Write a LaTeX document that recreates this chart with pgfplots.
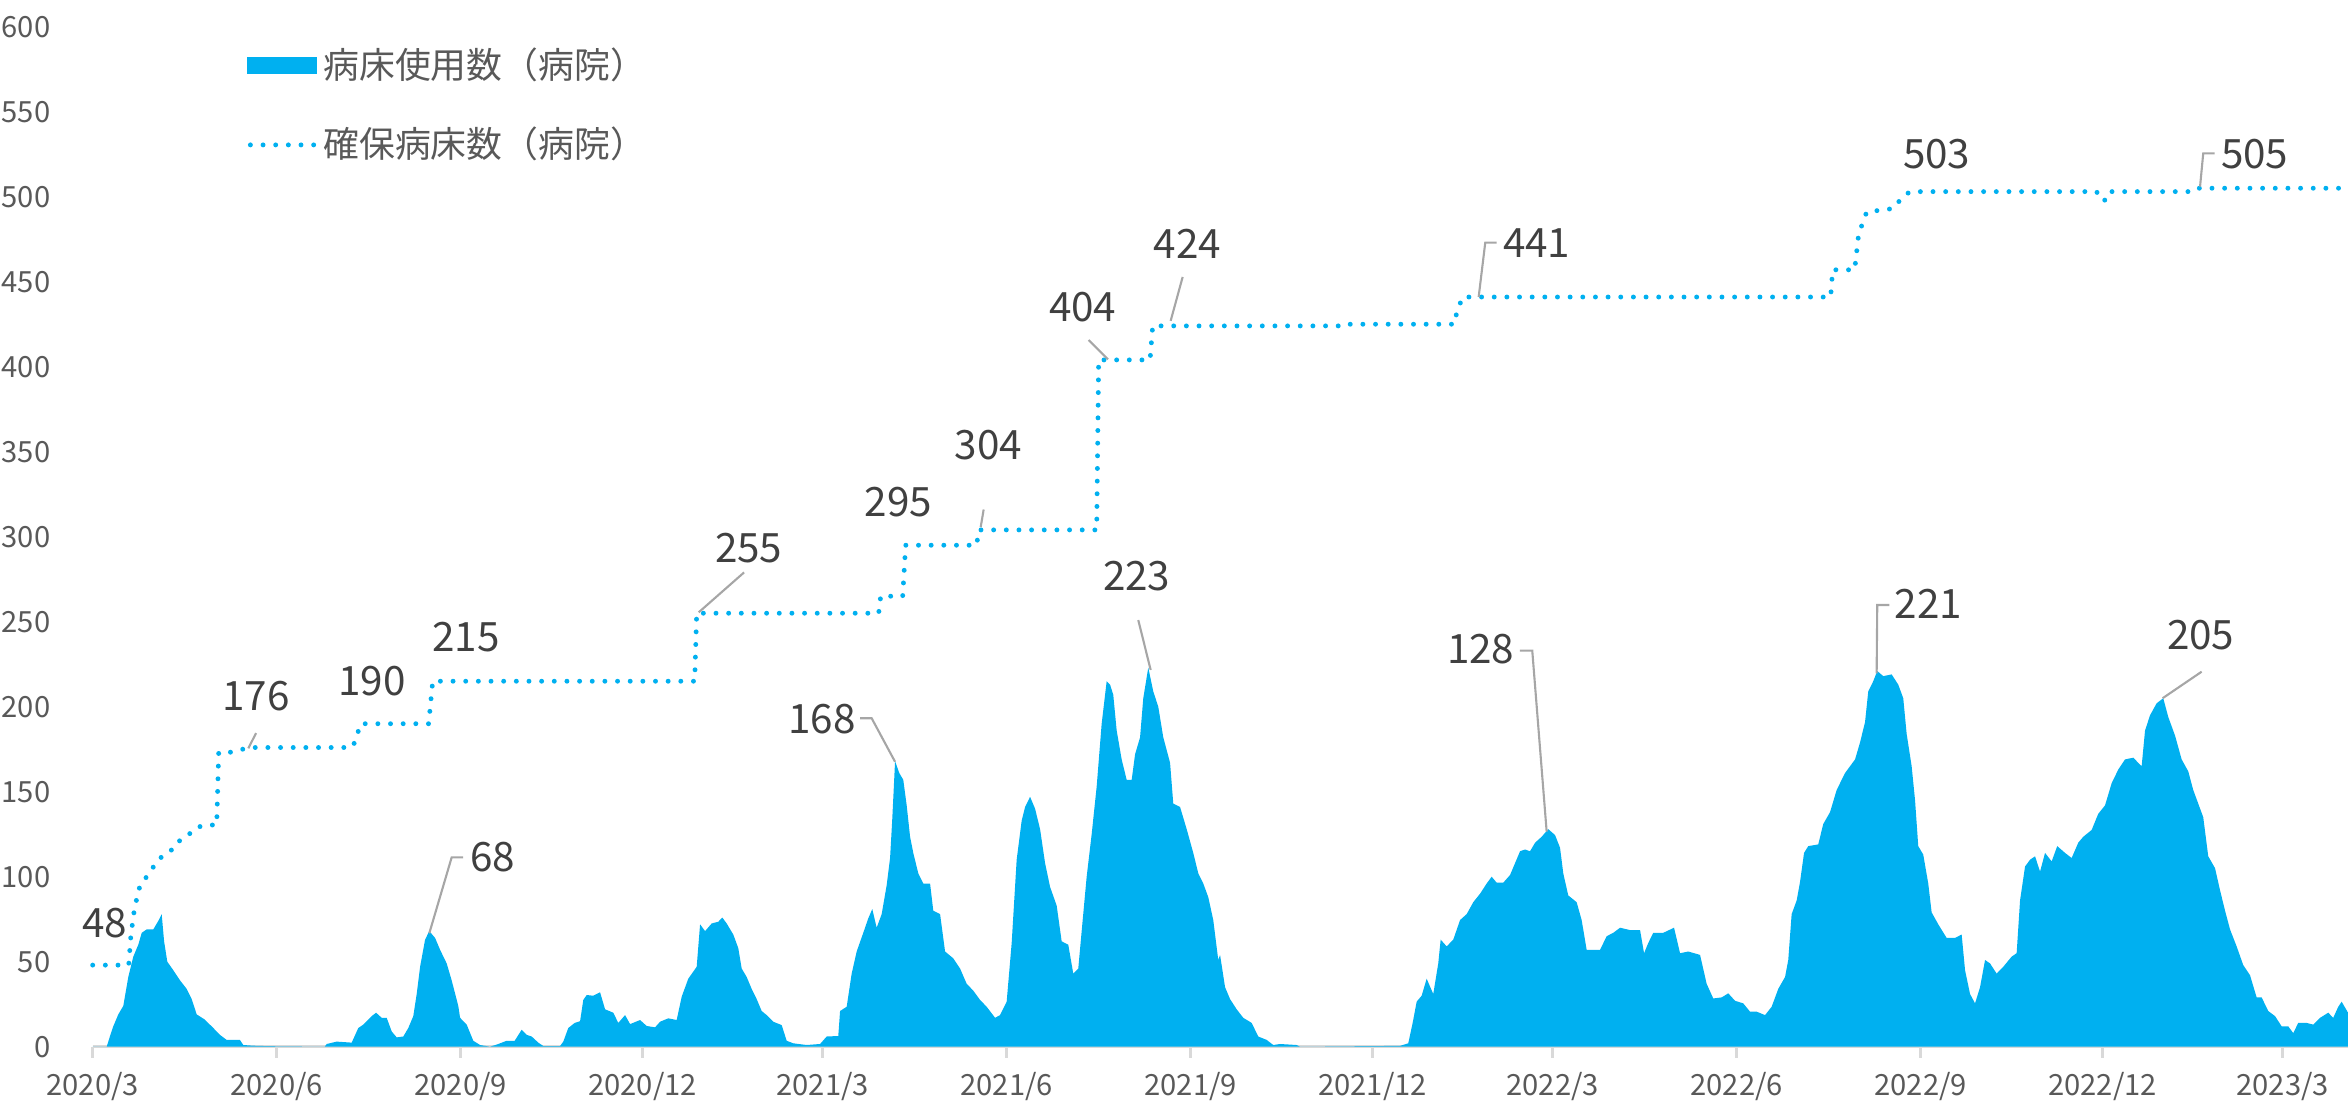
\documentclass[border=0pt]{standalone}
\usepackage{fontspec}
\setmainfont{Noto Sans CJK JP}
\usepackage{pgfplots}
\usepackage{pgfplotstable}
\pgfplotsset{compat=1.18}
\definecolor{barblue}{HTML}{00B0F0}
\definecolor{tickgray}{HTML}{595959}
\definecolor{labgray}{HTML}{404040}
\definecolor{axgray}{HTML}{D9D9D9}
\definecolor{leadgray}{HTML}{A6A6A6}

% day index from 2020-03-01, beds in use
\pgfplotstableread{
d v
0 0
7 0
8.6 6
10.3 12
12.8 19
15.3 24
17.8 41
20.3 53
22.8 60
24.5 67
27 69
30.3 69
32.8 74
34.5 78
35.7 62
37.3 50
40.3 45
43.7 39
47 34
49.5 28
52 19
56 16
60.3 11
63.6 7
67 4
73.6 4
75.3 1
80.3 0.6
88.7 0.3
116 0
117 1.6
122 3
129.5 2.4
132.8 11
135.3 13
139.5 18
141.7 20
144.5 17
147 17
149.5 9
152 5.5
155.3 6
157.8 11
160.3 18
162 31
163.7 47
166.2 63
168.3 68
171.2 64
173.7 57
177 49
179.5 39
182.8 24
183.7 17
187 13
190.3 3.5
193.7 1
198.7 0
202.8 1.6
207 3.5
211 3.5
214.5 10
217 7
219.5 6
222.8 2.4
225.3 0.4
233.7 0.4
235.3 3
237.8 11
241 14
243.7 15
245.3 27.5
247 30.4
250.3 30
253.7 32
256.2 22
260.3 20
262.8 14
266.2 18.6
268.7 13.3
273.7 15.7
277 12.2
281.2 11.4
283.7 14.7
287.8 16.7
292 15.7
294.5 29.4
297.8 40
302 47
303.7 72
306.2 68
309.5 72.5
312.8 73.5
314.8 76
317 72.5
320.3 66
322.8 58
324.5 46
327 41
329.5 34
332 28
334.5 21
337 18.6
340.3 14.7
344.5 12.7
347 3.5
350.3 2
357 1
363.7 1.6
367 6
372.8 6.3
373.7 21
377 23.5
379.5 43
382 56
385.3 67
387.8 75.5
389.8 81
392 70
394.5 78
397 95
398.7 111
399.8 134
401.2 168
403.3 161
405.3 157
407 142
408.7 123.5
410.3 114
412.8 102
415.3 96
418.7 96
420.3 80
423.7 78
426.2 56
430.3 52
433.7 46
437 37
440.3 33
443.7 27.5
447 23.5
451.2 17
453.7 18.6
457 26.5
459.5 61
462 110
464.5 133
466.2 141
468.7 147
471.2 140
473.7 128
476.2 108
478.7 94
482 83
484.5 62
487.8 60
490.3 43
492.8 46
494.5 68
497 100
499.5 125
502 153
504.5 190
507 215
508.7 213
510.3 207
512 186
514.5 169
517 157
519.5 157
521.2 172
523.7 182
525.3 205
527.8 223
530.3 209
532.8 200
535.3 182
538.7 167
540.3 143
543.7 141
547 128
550.3 114
552.8 102
555.3 96
557.8 88
560.3 74.5
562.8 51
563.7 54
566.2 35
568.7 28
572 22
575.3 17
579.5 14
582.8 6
587 4
590.3 1
593.7 1.6
602 1
603.7 0
653.7 0.5
657.8 2
660 14
662 26.5
664.5 30
667 40
670.3 31
672.8 49
674 63
677 59
680.3 63
683.7 74.5
687 78
690.3 85
693.7 90
697 96
699.5 100
702 96.5
705.3 96.5
708.7 101
711.2 108
713.7 115
716.2 116
718.7 115
721.2 120
724.5 123.5
727.8 128
731.2 124.5
733.7 117
735.3 102
737.8 89
742 85
744.5 74.5
747 57
750.3 57
753.7 57
757 65
760.3 67
763.7 70
768.7 68.6
773.7 68.6
775.7 55
777.8 61
780.3 67
785.3 67
790.7 70
793.7 55
797.8 56
803.7 54
807 37
810.3 28.4
814.5 29
817.8 31.4
821.2 27
825.3 25.5
828.7 20.6
832 20.6
836.2 18.6
839.5 23.5
842.8 34
846.2 41
847.8 51
849.5 78
852 86
853.7 97
855.7 114
857.8 118
862.8 119
865.3 131
868.7 138
872 151
876.2 161
881.2 169
883.7 179
886.2 191
887.8 209
890.3 215
892.3 221
895.3 218
899.5 219
902.8 213
905.3 205
907 184
909.5 165
911.2 145
912.8 118
915.3 113
917.8 96
919.5 79
922.8 72
927 64
931.2 64
934.5 66
936.2 45
938.7 31
941.2 25.5
943.7 35
946.2 51
948.7 49
952 43
955.3 47
959.5 53
962 55
963.7 86
966.2 106
968.7 110
971.2 112
973.7 103
976.2 114
979.5 109
982.3 118
986.2 114
989.5 111
992.8 120
995.3 123.5
999.5 127.5
1002.8 137
1006.2 142
1009.5 155
1012.8 163
1016.2 169
1020.3 170
1024.5 165
1026.2 186
1028.7 195
1032 202
1035.3 205
1037.8 194
1041.2 183
1044.5 169
1047.8 162
1050.3 151
1052.8 143
1055.3 135
1057.8 112
1061.2 105
1063.7 92
1066.2 80
1068.7 69
1072 59
1075.3 48
1078.7 42
1082 29
1084.5 29
1087.8 21
1091.2 18
1094.5 12
1097.8 12
1100.3 8
1102.8 14
1107 14
1110.3 13
1113.7 17
1117.8 20
1120.3 17
1122.8 23.5
1124.5 26.5
1127.7 20
}\usedbeds

% secured beds
\pgfplotstableread{
d v
0 48
18 48
18.5 56
19 64
20.3 76.5
21.2 83
23.7 95
27 100
32.8 110
37 114
41.2 117
43.7 121.6
47.8 124.5
51.2 128.4
55.7 130.4
62 130.4
63 173
68 173
75 175
80 176
129.5 176
131 179
134 190
168 190
170 215
301 215
302 255
393 255
394 265
405 265
406.5 295
442 295
443 304
502 304
503 404
528.7 404
530 424
623 424
624 425
681 425
682 432
685 441
869 441
870 457
881 457
883 478
887 491
900 493
903 497
906 501
909 503
1002 503
1004 498
1007 498
1009 503
1050 503
1052 505
1127.7 505
}\securedbeds

\begin{document}
\begin{tikzpicture}
\path[use as bounding box] (0,0) rectangle (23.48cm,11.05cm);
\begin{axis}[
  at={(0.927cm,0.583cm)}, anchor=south west,
  scale only axis, width=22.553cm, height=10.2cm,
  xmin=0, xmax=1127.7, ymin=0, ymax=600,
  clip=false,
  axis x line=bottom, axis y line=left,
  x axis line style={axgray, line width=0.8pt, -},
  y axis line style={draw=none},
  ytick={0,50,...,600},
  ytick style={draw=none},
  xtick={0,92,184,275,365,457,549,640,730,822,914,1005,1095},
  xticklabels={2020/3,2020/6,2020/9,2020/12,2021/3,2021/6,2021/9,2021/12,2022/3,2022/6,2022/9,2022/12,2023/3},
  xtick style={axgray, line width=0.8pt},
  tick align=outside, major tick length=0.11cm,
  /pgf/number format/assume math mode=true,
  ticklabel style={font=\fontsize{8.3}{10}\selectfont, text=tickgray},
  yticklabel style={anchor=east, xshift=-0.19cm},
  xticklabel style={anchor=north, yshift=-0.02cm},
  legend style={at={(axis cs:77,590)}, anchor=north west, draw=none, fill=none,
    font=\fontsize{10.2}{12}\selectfont, text=tickgray, row sep=0.36cm, inner sep=0pt,
    nodes={inner sep=1pt}},
  legend cell align=left,
]
\addplot[fill=barblue, draw=none, sharp plot,
  legend image code/.code={\fill[barblue] (0cm,-0.085cm) rectangle (0.70cm,0.085cm);}]
  table[x=d, y=v] {\usedbeds} \closedcycle;
\addlegendentry{病床使用数（病院）}
\addplot[barblue, line width=1.4pt, dash pattern=on 0pt off 3.6pt, line cap=round, sharp plot,
  legend image code/.code={\draw[barblue, line width=1.4pt, dash pattern=on 0pt off 3.6pt, line cap=round] (0.03cm,0cm) -- (0.70cm,0cm);}]
  table[x=d, y=v] {\securedbeds};
\addlegendentry{確保病床数（病院）}

% leader lines
\draw[leadgray, line width=0.6pt] (axis cs:81.7,184.5) -- (axis cs:77.8,175.5);
\draw[leadgray, line width=0.6pt] (axis cs:168.3,66.7) -- (axis cs:179.5,111.4) -- (axis cs:185.2,111.4);
\draw[leadgray, line width=0.6pt] (axis cs:325.7,279) -- (axis cs:303,255.5);
\draw[leadgray, line width=0.6pt] (axis cs:445.5,316) -- (axis cs:444,305.6);
\draw[leadgray, line width=0.6pt] (axis cs:383.7,193.2) -- (axis cs:389.5,193.2) -- (axis cs:401.2,167.6);
\draw[leadgray, line width=0.6pt] (axis cs:498,415.7) -- (axis cs:507.7,404.3);
\draw[leadgray, line width=0.6pt] (axis cs:522.8,251) -- (axis cs:529,221.6);
\draw[leadgray, line width=0.6pt] (axis cs:545,452.8) -- (axis cs:539,427);
\draw[leadgray, line width=0.6pt] (axis cs:702,473) -- (axis cs:696.3,473) -- (axis cs:693,441);
\draw[leadgray, line width=0.6pt] (axis cs:713.6,233) -- (axis cs:719.8,233) -- (axis cs:727,126.5);
\draw[leadgray, line width=0.6pt] (axis cs:898.3,259.8) -- (axis cs:892.3,259.8) -- (axis cs:892,219.6);
\draw[leadgray, line width=0.6pt] (axis cs:1054.5,220.6) -- (axis cs:1035,205);
\draw[leadgray, line width=0.6pt] (axis cs:1061,525.5) -- (axis cs:1055.3,525.5) -- (axis cs:1053.7,505.9);

% data labels
\begin{scope}[every node/.style={font=\fontsize{11.5}{13}\selectfont, text=labgray, inner sep=0pt}]
\node at (axis cs:6,72.5) {48};
\node at (axis cs:81.6,206) {176};
\node at (axis cs:139.7,215) {190};
\node at (axis cs:186.6,241) {215};
\node at (axis cs:199.9,111.6) {68};
\node at (axis cs:328,293.3) {255};
\node at (axis cs:364.6,192.5) {168};
\node at (axis cs:402.9,320.6) {295};
\node at (axis cs:447.8,354) {304};
\node at (axis cs:495,435) {404};
\node at (axis cs:522,276.6) {223};
\node at (axis cs:547.4,472) {424};
\node at (axis cs:694,233.8) {128};
\node at (axis cs:722,473) {441};
\node at (axis cs:917.8,260.3) {221};
\node at (axis cs:922,525) {503};
\node at (axis cs:1054,242.2) {205};
\node at (axis cs:1081,525) {505};
\end{scope}
\end{axis}
\end{tikzpicture}
\end{document}
